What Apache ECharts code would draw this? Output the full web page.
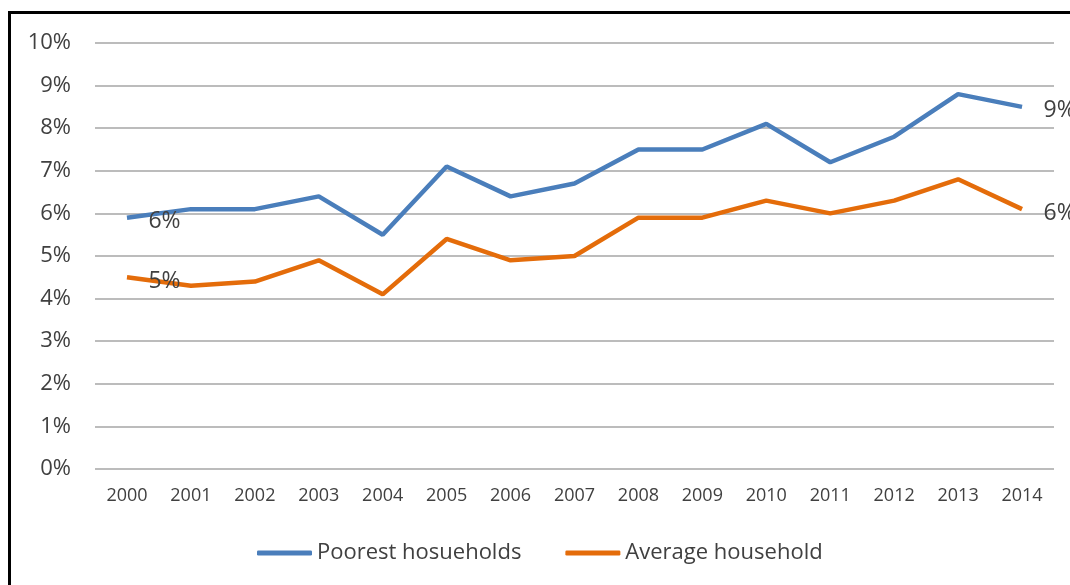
<!DOCTYPE html>
<html>
<head>
<meta charset="utf-8">
<script src="https://cdn.jsdelivr.net/npm/echarts@6/dist/echarts.min.js"></script>
<style>
  html, body { margin: 0; padding: 0; background: #fff; overflow: hidden; }
  #chart { position: absolute; left: 0; top: 0; width: 1070px; height: 585px; }
  #frame { position: absolute; left: 8px; top: 11px; width: 2000px; height: 2000px;
           border: 3px solid #000; pointer-events: none; }
</style>
</head>
<body>
<div id="chart"></div>
<div id="frame"></div>
<script>
const years = ['2000','2001','2002','2003','2004','2005','2006','2007','2008','2009','2010','2011','2012','2013','2014'];
const poorest = [5.9, 6.1, 6.1, 6.4, 5.5, 7.1, 6.4, 6.7, 7.5, 7.5, 8.1, 7.2, 7.8, 8.8, 8.5];
const average = [4.5, 4.3, 4.4, 4.9, 4.1, 5.4, 4.9, 5.0, 5.9, 5.9, 6.3, 6.0, 6.3, 6.8, 6.1];

const font = '"Open Sans", sans-serif';
const last = years.length - 1;
const blue = '#4a7ebb';
const orange = '#e46c0a';

// only the first and last point carry a rounded label
const endLabel = {
  show: true,
  position: 'right',
  distance: 21,
  offset: [0, 4],
  fontFamily: font,
  fontSize: 23,
  color: '#404040',
  formatter: p => (p.dataIndex === 0 || p.dataIndex === last) ? Math.round(p.value) + '%' : ''
};

const chart = echarts.init(document.getElementById('chart'));
chart.setOption({
  animation: false,
  grid: { left: 95, right: 16, top: 43, bottom: 116 },
  legend: {
    left: 252,
    top: 537,
    itemWidth: 55,
    itemHeight: 5,
    itemGap: 44,
    icon: 'roundRect',
    textStyle: { fontFamily: font, fontSize: 22, color: '#404040' },
    data: [
      { name: 'Poorest hosueholds', itemStyle: { color: blue } },
      { name: 'Average household', itemStyle: { color: orange } }
    ]
  },
  xAxis: {
    type: 'category',
    data: years,
    axisLine: { show: false },
    axisTick: { show: false },
    axisLabel: { fontFamily: font, fontSize: 18, color: '#404040', margin: 18 }
  },
  yAxis: {
    type: 'value',
    min: 0, max: 10, interval: 1,
    axisLabel: { fontFamily: font, fontSize: 22, color: '#404040', margin: 24, formatter: '{value}%' },
    splitLine: { lineStyle: { color: '#a6a6a6', width: 1.5 } }
  },
  series: [
    {
      name: 'Poorest hosueholds',
      type: 'line',
      data: poorest,
      symbol: 'circle',
      symbolSize: 1,
      showAllSymbol: true,
      itemStyle: { color: 'rgba(0,0,0,0)' },
      lineStyle: { width: 4.5, color: blue },
      label: endLabel
    },
    {
      name: 'Average household',
      type: 'line',
      data: average,
      symbol: 'circle',
      symbolSize: 1,
      showAllSymbol: true,
      itemStyle: { color: 'rgba(0,0,0,0)' },
      lineStyle: { width: 4.5, color: orange },
      label: endLabel
    }
  ]
});
</script>
</body>
</html>
